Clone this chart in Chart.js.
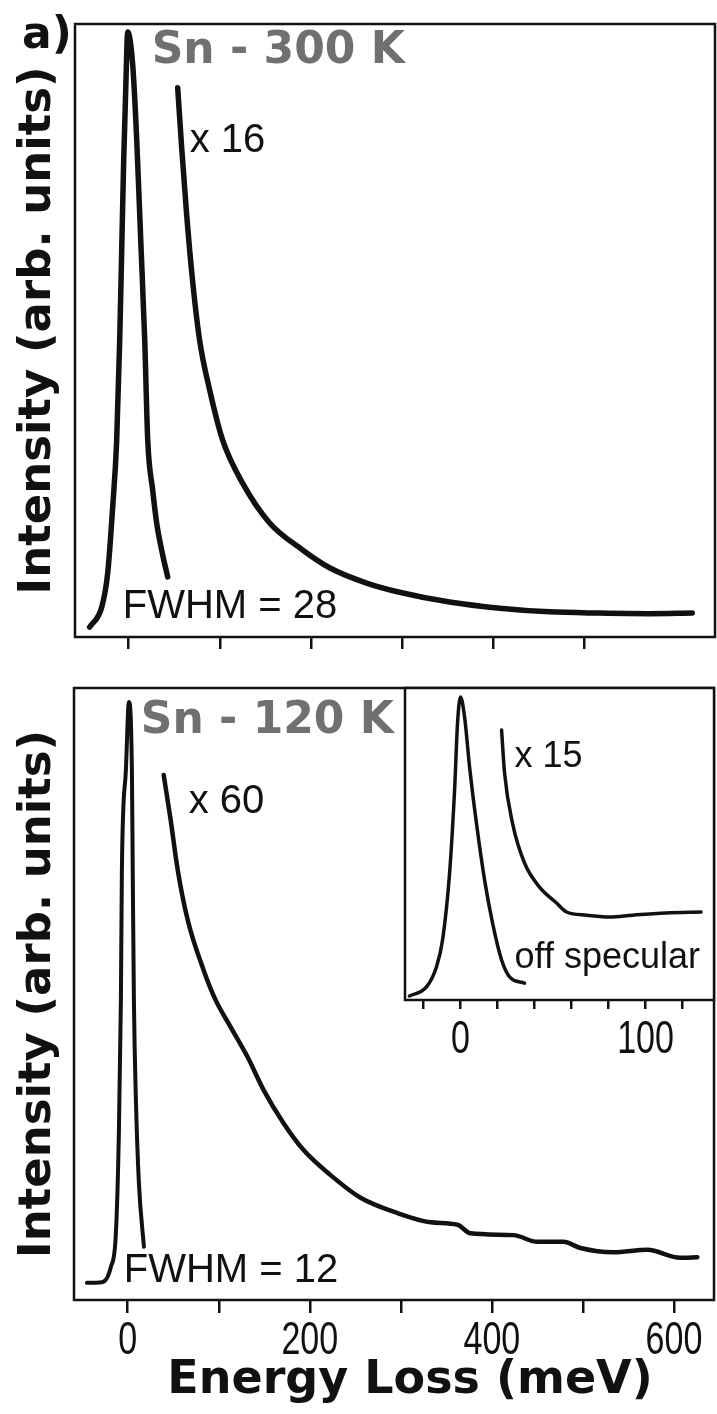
<!DOCTYPE html>
<html>
<head>
<meta charset="utf-8">
<script src="https://cdn.jsdelivr.net/npm/chart.js@4.4.1/dist/chart.umd.min.js"></script>
<style>
  html, body { margin: 0; padding: 0; background: #fff; }
  #page { position: relative; width: 717px; height: 1414px; overflow: hidden; }
  canvas { position: absolute; }
</style>
</head>
<body>
<div id="page">
  <canvas id="top-chart" width="717" height="700" style="left:0;top:0"></canvas>
  <canvas id="bottom-chart" width="717" height="764" style="left:0;top:650px"></canvas>
  <canvas id="inset-chart" width="387" height="420" style="left:330px;top:660px"></canvas>
</div>
<script>
// energy loss axis (meV)
const energyTicks = [0, 100, 200, 300, 400, 500, 600];
const energyTickLabels = ['0', '', '200', '', '400', '', '600'];
const topTicks = [0, 100, 200, 300, 400, 500];
const insetTicks = [-20, 0, 20, 40, 60, 80, 100, 120];
const insetTickLabels = ['', '0', '', '', '', '', '100', ''];

// Sn - 300 K
const top300ElasticE = [-42.9, -29.6, -23.1, -17.6, -13.2, -9.9, -7.7, -5.5, -3.3, -1.1, 4.4, 8.8, 13.2, 17.6, 20.9, 26.3, 30.7, 37.3, 42.8];
const top300ElasticI = [1.6, 4.9, 10.4, 21.2, 32.1, 48.4, 63.1, 77.8, 89.2, 98.7, 93.3, 81.1, 64.8, 48.4, 32.1, 24.0, 18.6, 13.4, 9.8];
const top300LossE = [53.8, 58.2, 63.7, 70.3, 77.9, 88.9, 103.2, 125.1, 154.8, 191, 220.6, 261.3, 297.5, 352.4, 407.3, 462.1, 517, 571.9, 619];
const top300LossI = [89.6, 79.8, 68.8, 57.9, 48.4, 40.3, 32.1, 25.1, 18.6, 14.2, 11.3, 8.8, 7.3, 5.7, 4.7, 4.1, 3.9, 3.8, 3.9];

// Sn - 120 K
const bot120ElasticE = [-44.8, -28.3, -18.5, -13, -9.7, -7.5, -6.4, -2, 1.3, 4.6, 5.5, 6.8, 9, 12.3, 17.8];
const bot120ElasticI = [2.8, 2.9, 5.4, 10.9, 27.3, 49, 70.3, 86.6, 97.7, 86.6, 70.3, 49, 32.7, 19.1, 8.7];
const bot120LossE = [39.5, 47.2, 54.9, 65.9, 83.4, 96.6, 113.1, 131.7, 149.3, 171.2, 193.2, 222.8, 255.8, 296.4, 332.6, 362.2, 376.5, 423.7, 450.1, 478.6, 497.3, 533.5, 570.8, 607, 625.7];
const bot120LossI = [85.8, 78.4, 70.3, 62.1, 53.9, 49.0, 44.6, 39.7, 34.3, 28.9, 24.5, 20.4, 16.7, 14.2, 12.7, 12.3, 10.9, 10.6, 9.5, 9.5, 8.5, 7.8, 8.2, 6.9, 7.0];

// inset: off specular
const insetElasticE = [-27.6, -18.4, -13, -9.7, -5.9, -3.2, -1.6, 0, 2.2, 4.9, 8.6, 13, 17.3, 22.2, 26.5, 34.6];
const insetElasticI = [1.3, 4.2, 10.6, 19.2, 40.7, 67.3, 88.8, 97.1, 90.7, 74.7, 56.7, 38.5, 24.7, 12.8, 7.4, 5.4];
const insetLossE = [22.2, 23.8, 28.1, 34.6, 42.7, 51.9, 57.3, 68.1, 80.5, 93, 111, 130];
const insetLossI = [86.5, 72.8, 56.7, 43.9, 36.2, 31.1, 28.2, 27.2, 26.6, 27.2, 27.9, 28.2];

const tickFont = "46px 'Liberation Sans', Arial, sans-serif";
const noteFont = "40px 'Liberation Sans', Arial, sans-serif";
const insetNoteFont = "36px 'Liberation Sans', Arial, sans-serif";
const heavyFont = "bold 46px 'DejaVu Sans', sans-serif";
const panelFont = "bold 44px 'DejaVu Sans', sans-serif";

function toPoints(xs, ys) {
    return xs.map((x, i) => ({ x: x, y: ys[i] }));
}

function curve(xs, ys, width) {
    return {
        data: toPoints(xs, ys),
        borderColor: '#111',
        borderWidth: width,
        pointRadius: 0,
        tension: 0.4,
        cubicInterpolationMode: 'monotone',
        borderCapStyle: 'round',
        borderJoinStyle: 'round'
    };
}

// frame around plot area, white fill underneath
const frame = {
    id: 'frame',
    beforeDatasetsDraw(chart) {
        const a = chart.chartArea;
        const ctx = chart.ctx;
        ctx.save();
        ctx.fillStyle = '#fff';
        ctx.fillRect(a.left, a.top, a.right - a.left, a.bottom - a.top);
        ctx.restore();
    },
    afterDraw(chart) {
        const a = chart.chartArea;
        const ctx = chart.ctx;
        ctx.save();
        ctx.strokeStyle = '#111';
        ctx.lineWidth = 2.5;
        ctx.strokeRect(a.left, a.top, a.right - a.left, a.bottom - a.top);
        ctx.restore();
    }
};

// text notes (data units unless px is set) and condensed tick numbers
const notes = {
    id: 'notes',
    afterDraw(chart, args, opts) {
        const ctx = chart.ctx;
        const xs = chart.scales.x, ys = chart.scales.y;
        (opts.items || []).forEach(function (it) {
            const px = it.px ? it.at[0] : xs.getPixelForValue(it.at[0]);
            const py = it.px ? it.at[1] : ys.getPixelForValue(it.at[1]);
            ctx.save();
            ctx.font = it.font;
            ctx.fillStyle = it.color || '#111';
            ctx.textAlign = it.align || 'left';
            ctx.textBaseline = 'alphabetic';
            ctx.fillText(it.text, px, py);
            ctx.restore();
        });
        const t = opts.tickText;
        if (t) {
            t.values.forEach(function (v, i) {
                if (!t.labels[i]) return;
                ctx.save();
                ctx.translate(xs.getPixelForValue(v), xs.top + t.dy);
                ctx.scale(0.74, 1);
                ctx.font = tickFont;
                ctx.fillStyle = '#111';
                ctx.textAlign = 'center';
                ctx.textBaseline = 'alphabetic';
                ctx.fillText(t.labels[i], 0, 0);
                ctx.restore();
            });
        }
    }
};

function xScale(min, max, ticks, tickLen, height) {
    return {
        type: 'linear',
        min: min,
        max: max,
        afterBuildTicks: function (scale) {
            scale.ticks = ticks.map(v => ({ value: v }));
        },
        afterFit: function (scale) {
            scale.height = height;
        },
        ticks: {
            autoSkip: false,
            maxRotation: 0,
            minRotation: 0,
            callback: function () { return ''; }
        },
        grid: {
            display: true,
            drawOnChartArea: false,
            drawTicks: true,
            tickLength: tickLen,
            color: '#111',
            lineWidth: 2.5
        },
        border: { display: false }
    };
}

function yScale(width, withTitle) {
    return {
        type: 'linear',
        min: 0,
        max: 100,
        display: withTitle,
        afterFit: function (scale) {
            scale.width = width;
        },
        ticks: { display: false },
        grid: { display: false },
        border: { display: false },
        title: {
            display: withTitle,
            text: 'Intensity (arb. units)',
            color: '#111',
            font: { family: "'DejaVu Sans', sans-serif", weight: 'bold', size: 45, lineHeight: 1 },
            padding: { top: 16, bottom: 0 }
        }
    };
}

function baseOptions(padding, scales, items, tickText) {
    return {
        responsive: false,
        animation: false,
        events: [],
        layout: { padding: padding },
        scales: scales,
        plugins: {
            legend: { display: false },
            tooltip: { enabled: false },
            notes: { items: items, tickText: tickText }
        }
    };
}

document.addEventListener('DOMContentLoaded', function () {
    new Chart(document.getElementById('top-chart'), {
        type: 'line',
        data: {
            datasets: [
                curve(top300ElasticE, top300ElasticI, 5.5),
                curve(top300LossE, top300LossI, 5.5)
            ]
        },
        options: baseOptions(
            { top: 24, right: 2, left: 0, bottom: 0 },
            { x: xScale(-59, 644, topTicks, 12, 63), y: yScale(75, true) },
            [
                { text: 'a)', at: [22, 48], px: true, font: panelFont },
                { text: 'Sn - 300 K', at: [25.2, 93.6], font: panelFont, color: '#707070' },
                { text: 'x 16', at: [67, 79.1], font: noteFont },
                { text: 'FWHM = 28', at: [-6.6, 3.1], font: noteFont }
            ],
            null
        ),
        plugins: [frame, notes]
    });

    new Chart(document.getElementById('bottom-chart'), {
        type: 'line',
        data: {
            datasets: [
                curve(bot120ElasticE, bot120ElasticI, 4),
                curve(bot120LossE, bot120LossI, 4.5)
            ]
        },
        options: baseOptions(
            { top: 38, right: 3, left: 0, bottom: 0 },
            { x: xScale(-59, 644, energyTicks, 13, 114), y: yScale(74, true) },
            [
                { text: 'Sn - 120 K', at: [14.3, 92.6], font: panelFont, color: '#707070' },
                { text: 'x 60', at: [67, 79.6], font: noteFont },
                { text: 'FWHM = 12', at: [-4.4, 2.9], font: noteFont },
                { text: 'Energy Loss (meV)', at: [410, 743], px: true, align: 'center', font: heavyFont }
            ],
            { values: energyTicks, labels: energyTickLabels, dy: 54 }
        ),
        plugins: [frame, notes]
    });

    new Chart(document.getElementById('inset-chart'), {
        type: 'line',
        data: {
            datasets: [
                curve(insetElasticE, insetElasticI, 3.5),
                curve(insetLossE, insetLossI, 3.5)
            ]
        },
        options: baseOptions(
            { top: 28, right: 3, left: 75, bottom: 0 },
            { x: xScale(-30, 137, insetTicks, 9, 80), y: yScale(0, false) },
            [
                { text: 'x 15', at: [29.2, 74.7], font: insetNoteFont },
                { text: 'off specular', at: [29.2, 10.3], font: insetNoteFont }
            ],
            { values: insetTicks, labels: insetTickLabels, dy: 53 }
        ),
        plugins: [frame, notes]
    });
});
</script>
</body>
</html>
